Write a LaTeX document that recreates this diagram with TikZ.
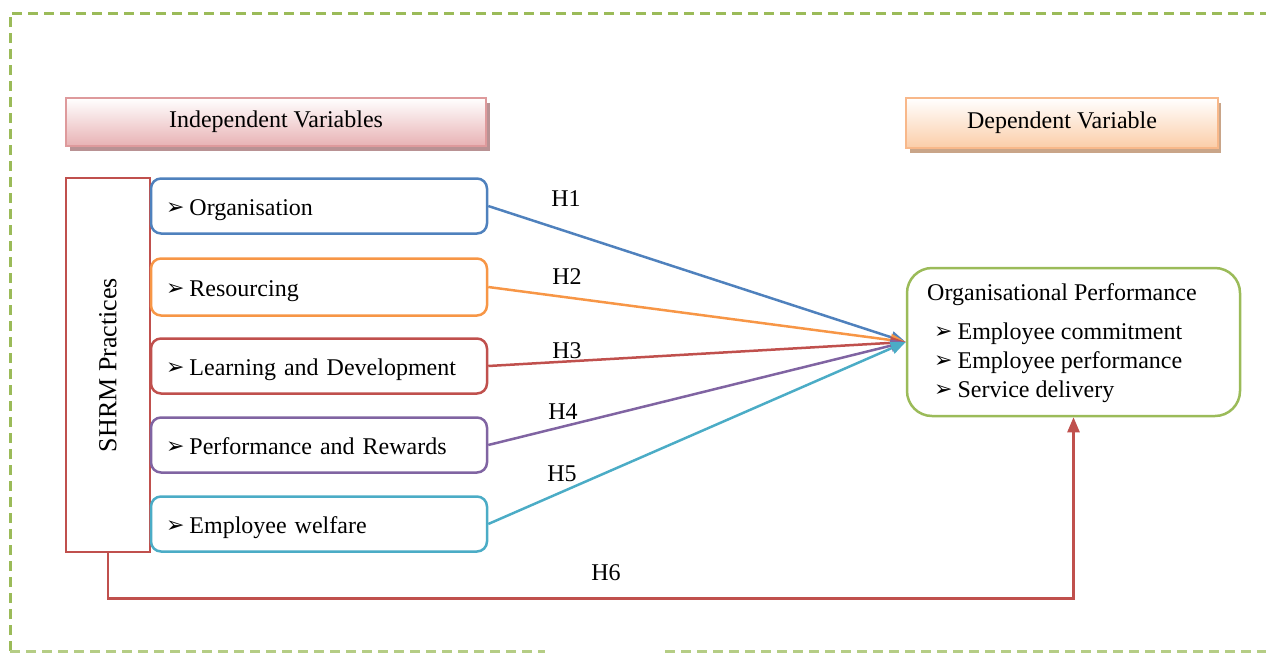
\documentclass[tikz,border=0pt]{standalone}
\usepackage{fontspec}
\setmainfont{Liberation Serif}
\newfontfamily\dejavu{DejaVu Sans}
\usetikzlibrary{arrows.meta,shadings}
\definecolor{cblue}{HTML}{4F81BD}
\definecolor{corange}{HTML}{F79646}
\definecolor{cred}{HTML}{C0504D}
\definecolor{cpurple}{HTML}{8064A2}
\definecolor{ccyan}{HTML}{4BACC6}
\definecolor{cgreen}{HTML}{9BBB59}
\definecolor{cgreenlt}{HTML}{B5CD85}
\definecolor{pinkb}{HTML}{DE9A9C}
\definecolor{pinkf}{HTML}{E8B2B4}
\definecolor{pinksh}{HTML}{B99294}
\definecolor{orgb}{HTML}{F8B88A}
\definecolor{orgf}{HTML}{FBCDA8}
\definecolor{orgsh}{HTML}{C9A589}
\newcommand{\bul}{{\dejavu\fontsize{22}{22}\selectfont\raisebox{1pt}{➢}}\hspace{5pt}}
\tikzset{
  txt/.style={font=\fontsize{24}{28}\selectfont},
  item/.style={txt, draw, line width=2.5pt, rounded corners=10pt, minimum width=336pt,
    minimum height=55pt, text width=306pt, inner xsep=15pt, align=left, fill=white,
    text height=20pt, text depth=2pt},
  hdr/.style={txt, line width=2pt, minimum height=48pt},
  conn/.style={line width=2.5pt, -{Triangle[length=15pt,width=12pt]}},
  hlab/.style={txt, inner sep=0pt}
}
\begin{document}
\begin{tikzpicture}[x=1pt,y=-1pt]
\useasboundingbox (0,0) rectangle (1268,654);
% outer dashed frame
\draw[cgreen, line width=3pt, dash pattern=on 10pt off 6pt] (10,651) -- (10,13) -- (1266,13);
\draw[cgreenlt, line width=3pt, dash pattern=on 10pt off 6pt] (10,651) -- (545,651);
\draw[cgreenlt, line width=3pt, dash pattern=on 10pt off 6pt] (665,651) -- (1266,651);

% header boxes
\fill[pinksh] (70,103) rectangle (490,151);
\node[hdr, draw=pinkb, top color=white, bottom color=pinkf, minimum width=420pt] (iv) at (276,122) {Independent Variables};
\fill[orgsh] (910,103) rectangle (1221,153);
\node[hdr, draw=orgb, top color=white, bottom color=orgf, minimum width=312pt, minimum height=50pt] (dv) at (1062,123) {Dependent Variable};

% SHRM box
\node[draw=cred, line width=2.5pt, minimum width=84pt, minimum height=374pt] (shrm) at (108,365) {};
\node[font=\fontsize{26}{30}\selectfont, rotate=90] (shrmt) at (shrm.center) {SHRM Practices};

% items
\node[item, draw=cblue] (org) at (319,206) {\bul Organisation};
\node[item, draw=corange, minimum height=57pt] (res) at (319,287) {\bul Resourcing};
\node[item, draw=cred] (ld) at (319,366) {\bul Learning and Development};
\node[item, draw=cpurple] (pr) at (319,445) {\bul Performance and Rewards};
\node[item, draw=ccyan] (ew) at (319,524) {\bul Employee welfare};

% dependent box
\node[draw=cgreen, line width=2.5pt, rounded corners=25pt, minimum width=333pt, minimum height=148pt] (op) at (1073.5,342) {};
\node[txt, anchor=west, inner sep=0pt] (opt) at (927,295) {Organisational Performance};
\node[txt, anchor=west, inner sep=0pt, align=left] (opl) at (934,363)
  {\bul Employee commitment\\[1pt] \bul Employee performance\\[1pt] \bul Service delivery};

% connectors
\draw[conn, cblue] (org.east) -- (op.west);
\draw[conn, corange] (res.east) -- (op.west);
\draw[conn, cred] (ld.east) -- (op.west);
\draw[conn, cpurple] (pr.east) -- (op.west);
\draw[conn, ccyan] (ew.east) -- (op.west);
\draw[conn, cred] (shrm.south) -- ++(0,45) -| (op.south);

% labels
\node[hlab] (h1) at (566,199) {H1};
\node[hlab] (h2) at (567,277) {H2};
\node[hlab] (h3) at (567,351) {H3};
\node[hlab] (h4) at (563,412) {H4};
\node[hlab] (h5) at (562,474) {H5};
\node[hlab] (h6) at (606,573) {H6};
\end{tikzpicture}
\end{document}
